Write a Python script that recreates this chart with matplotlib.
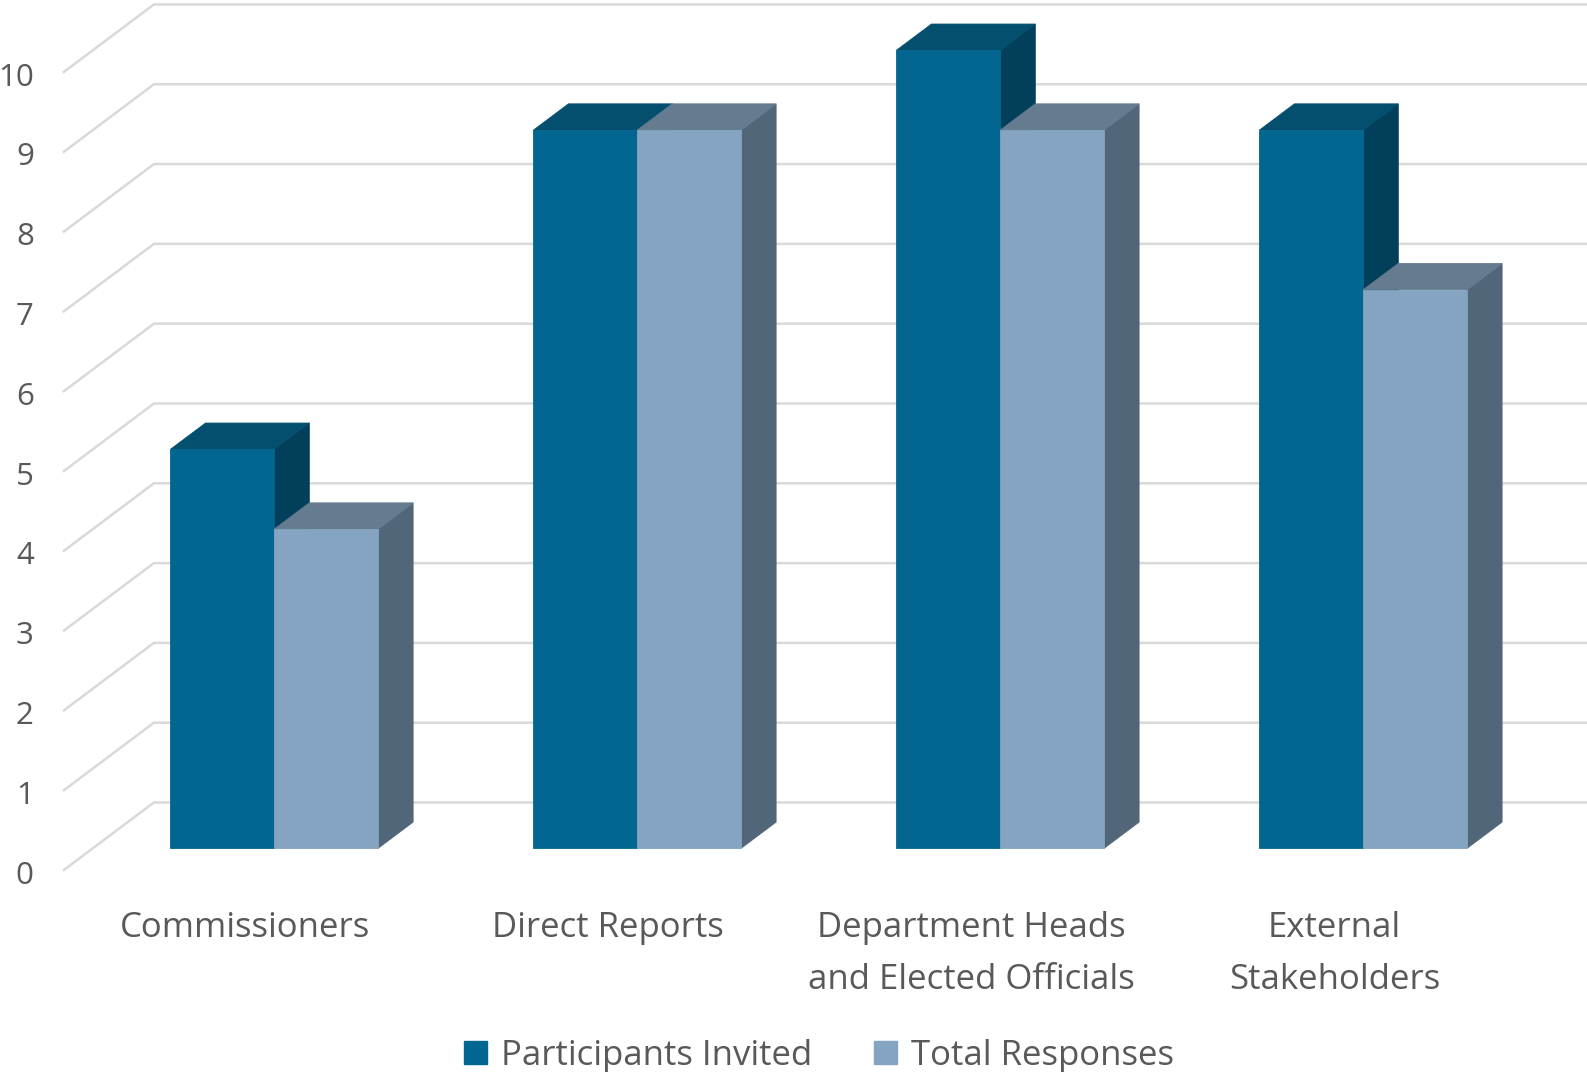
import matplotlib.pyplot as plt
from matplotlib.patches import Polygon, Patch

categories = ["Commissioners", "Direct Reports",
              "Department Heads\nand Elected Officials", "External\nStakeholders"]
invited = [5, 9, 10, 9]
responses = [4, 9, 9, 7]
y_ticks = list(range(0, 11))
series_names = ["Participants Invited", "Total Responses"]

# colours: front, top, side of each series
INV = ("#036690", "#044E6E", "#023F5A")
RES = ("#84A4C1", "#657B90", "#52667A")
TEXT = "#595959"
GRID = "#D9D9D9"

# oblique depth, in data units (x = category, y = value)
DX, DY = 0.248, 0.846
Z0, Z1 = 0.32, 0.71
W = 0.286

plt.rcParams['font.family'] = ['Open Sans', 'DejaVu Sans']


def proj(x, v, z):
    return (x + z * DX, v + z * DY)


def bar3d(ax, x0, x1, v, cols):
    front, top, side = cols
    faces = [
        ([(x1, 0, Z0), (x1, v, Z0), (x1, v, Z1), (x1, 0, Z1)], side),
        ([(x0, v, Z0), (x1, v, Z0), (x1, v, Z1), (x0, v, Z1)], top),
        ([(x0, 0, Z0), (x1, 0, Z0), (x1, v, Z0), (x0, v, Z0)], front),
    ]
    for corners, c in faces:
        ax.add_patch(Polygon([proj(*p) for p in corners], closed=True,
                             fc=c, ec=c, lw=0.6, zorder=2))


fig = plt.figure(figsize=(15.87, 10.72), dpi=100)
ax = fig.add_axes([0, 0, 1, 1])
ax.set_xlim(-0.676, 3.696)
ax.set_ylim(-2.531, 10.902)
ax.axis('off')

n = len(categories)
for t in y_ticks:
    p0 = proj(-0.5, t, 0)
    p1 = proj(-0.5, t, 1)
    ax.plot([p0[0], p1[0], n + 1], [p0[1], p1[1], p1[1]],
            color=GRID, lw=1.8, zorder=0, solid_joinstyle='miter')
    ax.text(-0.583, t - 0.17, str(t), ha='right', va='baseline',
            fontsize=22.5, color=TEXT)

for i in range(n):
    bar3d(ax, i - W, i, invited[i], INV)
    bar3d(ax, i, i + W, responses[i], RES)
    for k, line in enumerate(categories[i].split("\n")):
        ax.text(i, -0.84 - k * 0.647, line, ha='center', va='baseline',
                fontsize=25, color=TEXT)

handles = [Patch(fc=INV[0], ec=INV[0]), Patch(fc=RES[0], ec=RES[0])]
fig.legend(handles, series_names, loc='center', bbox_to_anchor=(0.516, 0.015),
           ncol=2, frameon=False, fontsize=25, labelcolor=TEXT,
           handlelength=0.65, handleheight=0.65, handletextpad=0.4,
           columnspacing=1.8, borderpad=0)

fig.savefig("out.png", dpi=100)
